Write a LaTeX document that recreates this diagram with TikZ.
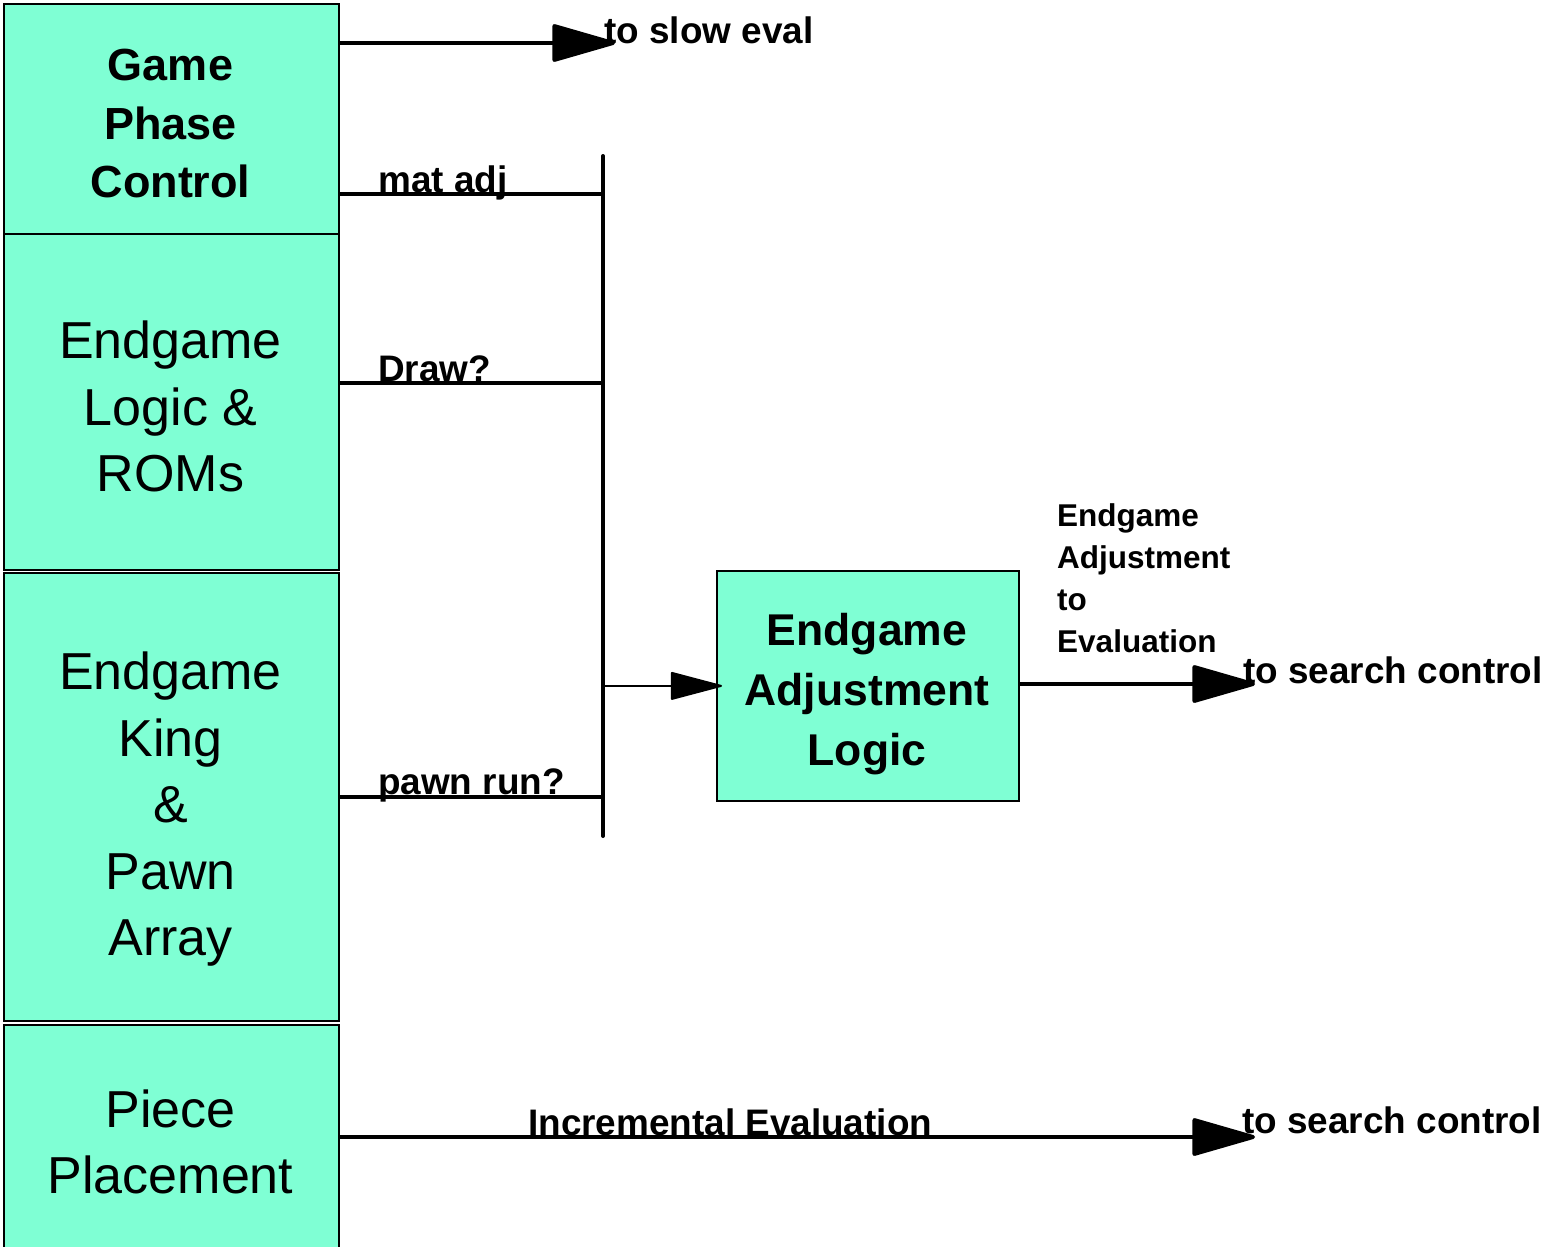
\documentclass[tikz,border=0pt]{standalone}
\usepackage{fontspec}
\setmainfont{Liberation Sans}
\usetikzlibrary{arrows.meta}
\definecolor{blockfill}{RGB}{127,255,212}
\begin{document}
\begin{tikzpicture}[x=1pt,y=-1pt,
  block/.style={draw=black, line width=1.8pt, fill=blockfill, inner sep=0pt,
                anchor=north west},
  blocktext/.style={inner sep=0pt, align=center, anchor=center},
  boldtext/.style={blocktext, font=\fontsize{45}{58.5}\selectfont\bfseries},
  plaintext/.style={blocktext, font=\fontsize{52}{66.5}\selectfont},
  sig/.style={inner sep=0pt, anchor=base west, font=\fontsize{36.9}{42}\selectfont\bfseries},
  wire/.style={line width=4pt},
  bus/.style={line width=4pt, line cap=round},
  bigarrow/.style={line width=4pt, -{Triangle[length=68pt,width=38pt,round]}},
  smallarrow/.style={line width=2pt, -{Triangle[length=54pt,width=28pt,round]}}
]
\useasboundingbox (0,0) rectangle (1542,1247);

% left column of stacked blocks
\node[block, minimum width=335pt, minimum height=230pt] (phase) at (3,3) {};
\node[block, minimum width=335pt, minimum height=336pt] (roms)  at (3,233) {};
\node[block, minimum width=335pt, minimum height=448pt] (kp)    at (3,572) {};
\node[block, minimum width=335pt, minimum height=240pt] (piece) at (3,1024) {};

\node[boldtext]  (phaseT) at (170.5,124) {Game\\Phase\\Control};
\node[plaintext] (romsT)  at (170.5,406.5) {Endgame\\Logic \&\\ROMs};
\node[plaintext] (kpT)    at (170.5,809.5) {Endgame\\King\\\&\\Pawn\\Array};
\node[plaintext] (pieceT) at (170.5,1142)  {Piece\\Placement};

% adjustment logic block
\node[block, minimum width=302pt, minimum height=230pt] (adj) at (716,570) {};
\node[blocktext, font=\fontsize{44.5}{60}\selectfont\bfseries] (adjT) at (867,694.5)
  {Endgame\\Adjustment\\Logic};

% collecting bus
\coordinate (busTop) at (603,156);
\coordinate (busBot) at (603,836);
\draw[bus] (busTop) -- (busBot);

% output end points
\coordinate (slow)    at (615,43);
\coordinate (search1) at (1255,684);
\coordinate (search2) at (1255,1137);

% game phase to slow eval
\draw[bigarrow] (phase.east |- slow) -- (slow);
\node[sig] (slowL) at (604,44) {to slow eval};

% signals onto the bus
\draw[wire] (phase.east |- 0,194) -- (busTop |- 0,194);
\node[sig] (matL) at (378,192) {mat adj};
\draw[wire] (roms.east |- 0,383) -- (busTop |- 0,383);
\node[sig] (drawL) at (378,381) {Draw?};
\draw[wire] (kp.east |- 0,797) -- (busTop |- 0,797);
\node[sig] (pawnL) at (378,794) {pawn run?};

% bus into adjustment logic
\draw[smallarrow] (busTop |- adj.west) -- ([xshift=6pt]adj.west);

% adjustment out to search control
\draw[bigarrow] (adj.east |- search1) -- (search1);
\node[sig] (search1L) at (1243,683) {to search control};
\node[inner sep=0pt, anchor=north west, align=left,
      font=\fontsize{31.5}{42}\selectfont\bfseries] (adjOutL) at (1057,503)
  {Endgame\\Adjustment\\to\\Evaluation};

% incremental evaluation to search control
\draw[bigarrow] (piece.east |- search2) -- (search2);
\node[sig] (incL) at (528,1135) {Incremental Evaluation};
\node[sig] (search2L) at (1242,1133) {to search control};
\end{tikzpicture}
\end{document}
